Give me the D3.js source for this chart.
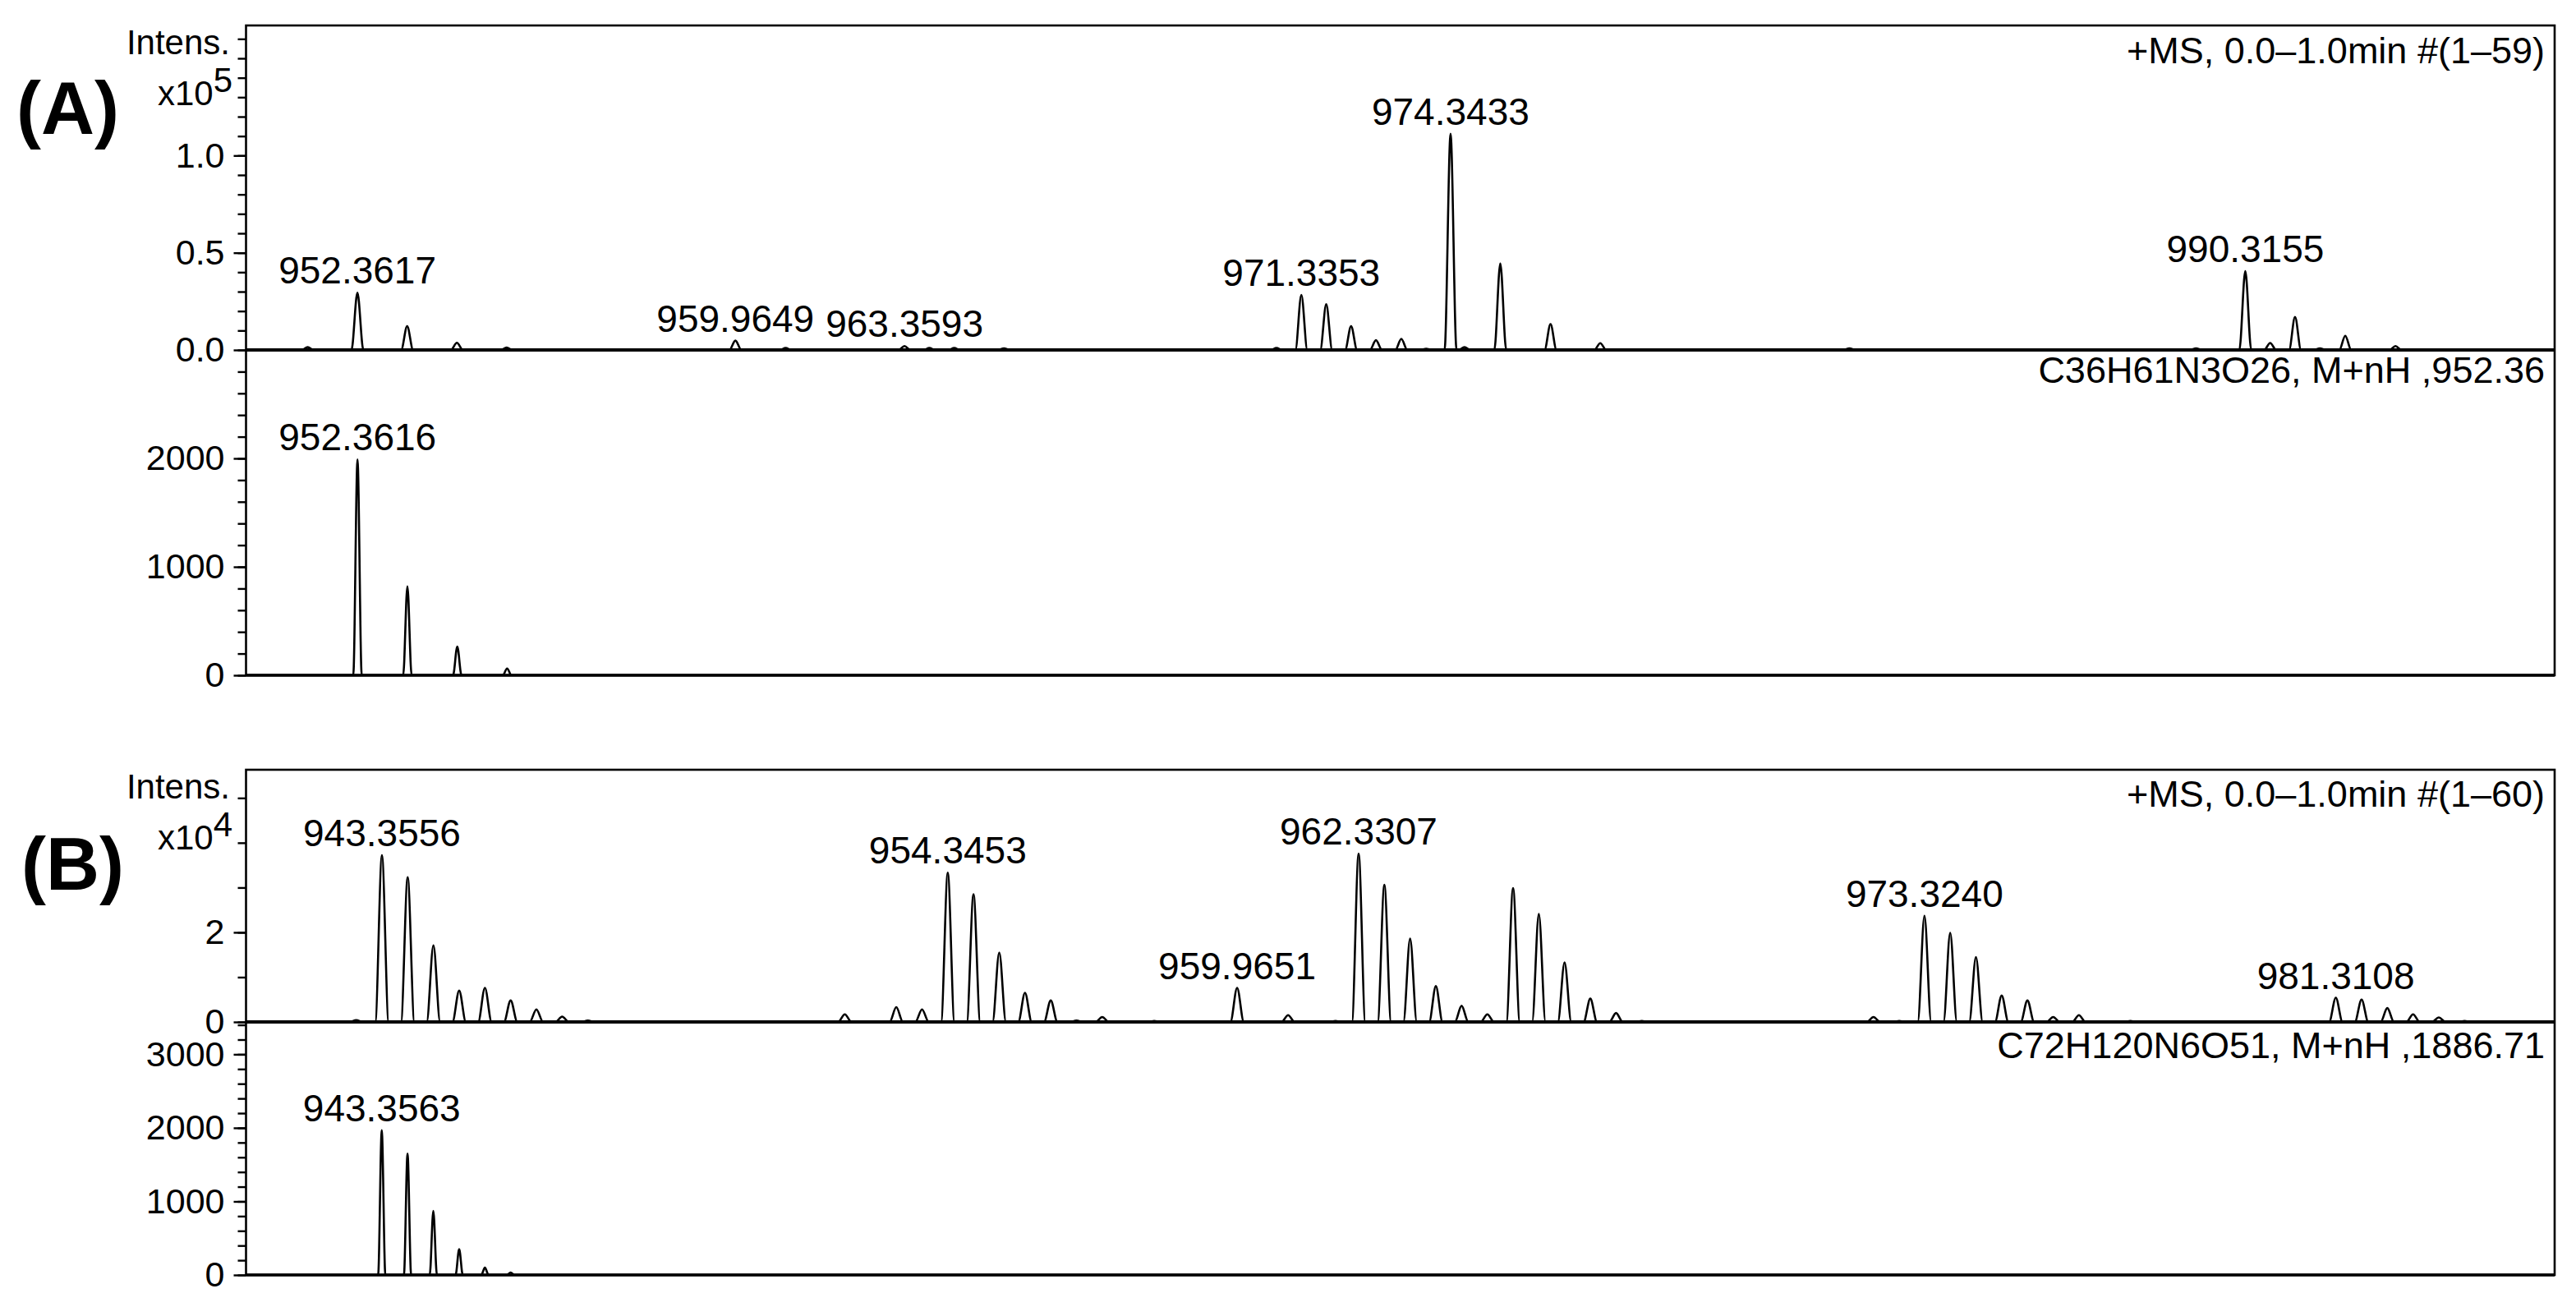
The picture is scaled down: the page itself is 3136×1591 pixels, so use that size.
<!DOCTYPE html>
<html>
<head>
<meta charset="utf-8">
<script src="https://cdn.jsdelivr.net/npm/d3@7"></script>
<style>
  body { margin: 0; background: #fff; }
  svg { display: block; }
  text { font-family: "Liberation Sans", Arial, Helvetica, sans-serif; fill: #000; }
</style>
</head>
<body>
<svg id="chart" width="3136" height="1591"></svg>
<script>
// ---------------- DATA ----------------
// (A) measured spectrum, +MS 0.0-1.0 min #(1-59)
const specA_mz  = [951.36, 952.36, 953.36, 954.36, 955.36, 959.96, 960.97, 963.36, 963.86, 964.36, 965.36,
                   970.84, 971.34, 971.84, 972.34, 972.84, 973.35, 973.85, 974.34, 974.62, 975.34, 976.35, 977.35,
                   982.36, 989.33, 990.32, 990.82, 991.32, 991.82, 992.33, 993.34];
const specA_int = [1500, 29500, 12200, 3700, 1200, 4800, 1000, 2000, 1000, 1000, 800,
                   1000, 28300, 23500, 12200, 5000, 5700, 600, 111200, 1500, 44400, 13300, 3500,
                   800, 800, 40500, 3600, 17000, 800, 7300, 2000];
// (A) simulated isotope pattern C36H61N3O26
const simA_mz  = [952.3616, 953.365, 954.368, 955.37];
const simA_int = [1990, 820, 265, 63];

// (B) measured spectrum, +MS 0.0-1.0 min #(1-60)
const specB_mz  = [942.86, 943.36, 943.86, 944.36, 944.86, 945.36, 945.86, 946.36, 946.86, 947.36,
                   952.35, 953.35, 953.85, 954.35, 954.85, 955.35, 955.85, 956.35, 956.85, 957.35, 958.36,
                   959.97, 960.96, 961.88,
                   962.33, 962.83, 963.33, 963.83, 964.33, 964.83,
                   965.33, 965.83, 966.33, 966.83, 967.33, 967.83,
                   970.35, 971.33, 971.83, 972.33, 972.83,
                   973.32, 973.82, 974.32, 974.82, 975.32, 975.82, 976.32, 977.32,
                   981.31, 981.81, 982.31, 982.81, 983.31, 983.81];
const specB_int = [400, 37200, 32300, 17100, 7000, 7600, 4800, 2800, 1200, 300,
                   1700, 3300, 2800, 33300, 28500, 15500, 6500, 4800, 300, 1100, 200,
                   7600, 1500, 200,
                   37600, 30600, 18600, 8000, 3600, 1700,
                   29900, 24100, 13300, 5200, 2000, 200,
                   100, 100, 100, 1100, 200,
                   23700, 19900, 14500, 5900, 4800, 1100, 1500, 200,
                   5400, 5000, 3100, 1700, 1000, 200];
// (B) simulated isotope pattern C72H120N6O51
const simB_mz  = [943.3563, 943.857, 944.358, 944.86, 945.36, 945.86];
const simB_int = [1967, 1650, 870, 350, 100, 33];

// peak annotations
const labA_top = ["952.3617", "959.9649", "963.3593", "971.3353", "974.3433", "990.3155"];
const labA_sim = ["952.3616"];
const labB_top = ["943.3556", "954.3453", "959.9651", "962.3307", "973.3240", "981.3108"];
const labB_sim = ["943.3563"];

// axis domains and ticks
const xDomA = [950.12, 996.54];
const xDomB = [940.72, 985.56];
const yDomA_top = [0, 166900];
const yDomA_sim = [0, 3000];
const yDomB_top = [0, 56300];
const yDomB_sim = [0, 3440];
const ticksA_top_major = [0, 50000, 100000];
const ticksA_sim_major = [0, 1000, 2000];
const ticksB_top_major = [0, 20000];
const ticksB_sim_major = [0, 1000, 2000, 3000];

// texts
const infoA = "+MS, 0.0\u20131.0min #(1\u201359)";
const formA = "C36H61N3O26, M+nH ,952.36";
const infoB = "+MS, 0.0\u20131.0min #(1\u201360)";
const formB = "C72H120N6O51, M+nH ,1886.71";

// ---------------- LAYOUT ----------------
const svg = d3.select("#chart");
const X0 = 299.5, X1 = 3110;
const layout = {
  A: { top: 31, mid: 426, bot: 822 },
  B: { top: 937, mid: 1244, bot: 1552 }
};

const panels = [
  { id: "At", mz: specA_mz, it: specA_int, xd: xDomA, yd: yDomA_top, y0: layout.A.mid, y1: layout.A.top, hw: 0.12,
    major: ticksA_top_major, minor: d3.range(0, 166000, 10000), fmt: v => (v / 1e5).toFixed(1), labels: labA_top },
  { id: "As", mz: simA_mz, it: simA_int, xd: xDomA, yd: yDomA_sim, y0: layout.A.bot, y1: layout.A.mid, hw: 0.085,
    major: ticksA_sim_major, minor: d3.range(0, 3000, 200), fmt: v => String(v), labels: labA_sim },
  { id: "Bt", mz: specB_mz, it: specB_int, xd: xDomB, yd: yDomB_top, y0: layout.B.mid, y1: layout.B.top, hw: 0.13,
    major: ticksB_top_major, minor: d3.range(0, 56000, 10000), fmt: v => String(v / 1e4), labels: labB_top },
  { id: "Bs", mz: simB_mz, it: simB_int, xd: xDomB, yd: yDomB_sim, y0: layout.B.bot, y1: layout.B.mid, hw: 0.07,
    major: ticksB_sim_major, minor: d3.range(0, 3440, 200), fmt: v => String(v), labels: labB_sim }
];

const defs = svg.append("defs");

panels.forEach(p => {
  const x = d3.scaleLinear().domain(p.xd).range([X0, X1]);
  const y = d3.scaleLinear().domain(p.yd).range([p.y0, p.y1]);

  defs.append("clipPath").attr("id", "clip" + p.id)
    .append("rect").attr("x", X0).attr("y", p.y1).attr("width", X1 - X0).attr("height", p.y0 - p.y1);

  // profile points built from the peak list
  const pts = [[p.xd[0], 0]];
  p.mz.forEach((m, i) => {
    pts.push([m - p.hw, 0], [m, p.it[i]], [m + p.hw, 0]);
  });
  pts.push([p.xd[1], 0]);

  const line = d3.line().x(d => x(d[0])).y(d => y(d[1])).curve(d3.curveMonotoneX);
  svg.append("path").datum(pts)
    .attr("clip-path", `url(#clip${p.id})`)
    .attr("d", line)
    .attr("fill", "none").attr("stroke", "#000").attr("stroke-width", 2.6)
    .attr("stroke-linejoin", "round");

  // minor ticks
  const gMin = svg.append("g").attr("transform", `translate(${X0},0)`)
    .call(d3.axisLeft(y).tickValues(p.minor).tickSize(10).tickFormat(""));
  gMin.select(".domain").remove();
  gMin.selectAll("line").attr("stroke-width", 2.4);

  // major ticks + labels
  const gMaj = svg.append("g").attr("transform", `translate(${X0},0)`)
    .call(d3.axisLeft(y).tickValues(p.major).tickSize(15).tickPadding(11).tickFormat(p.fmt));
  gMaj.select(".domain").remove();
  gMaj.selectAll("line").attr("stroke-width", 2.4);
  gMaj.selectAll("text").attr("font-size", 43).attr("font-family", '"Liberation Sans", Arial, sans-serif').attr("fill", "#000");

  // peak annotations
  p.labels.forEach(t => {
    const m = parseFloat(t);
    let best = 0;
    p.mz.forEach((v, i) => { if (Math.abs(v - m) < Math.abs(p.mz[best] - m)) best = i; });
    svg.append("text")
      .attr("x", x(p.mz[best]))
      .attr("y", y(p.it[best]) - 11)
      .attr("text-anchor", "middle")
      .attr("font-size", 46)
      .text(t);
  });
});

// frames
["A", "B"].forEach(k => {
  const L = layout[k];
  svg.append("rect").attr("x", X0).attr("y", L.top).attr("width", X1 - X0).attr("height", L.bot - L.top)
    .attr("fill", "none").attr("stroke", "#000").attr("stroke-width", 2.6);
  svg.append("line").attr("x1", X0).attr("x2", X1).attr("y1", L.mid).attr("y2", L.mid)
    .attr("stroke", "#000").attr("stroke-width", 4);
  svg.append("line").attr("x1", X0).attr("x2", X1).attr("y1", L.bot).attr("y2", L.bot)
    .attr("stroke", "#000").attr("stroke-width", 3.5);
});

// info texts
function infoText(str, yBase) {
  svg.append("text").attr("x", 3098).attr("y", yBase).attr("text-anchor", "end")
    .attr("font-size", 45).text(str);
}
infoText(infoA, 77);
infoText(formA, 466);
infoText(infoB, 982);
infoText(formB, 1288);

// Intens. labels
function intensLabel(yIntens, yExp, expo) {
  svg.append("text").attr("x", 280).attr("y", yIntens).attr("text-anchor", "end")
    .attr("font-size", 42).text("Intens.");
  const t = svg.append("text").attr("x", 283).attr("y", yExp).attr("text-anchor", "end").attr("font-size", 42);
  t.append("tspan").text("x10");
  t.append("tspan").attr("dy", -16).text(expo);
}
intensLabel(66, 128, "5");
intensLabel(972, 1034, "4");

// panel letters
svg.append("text").attr("x", 20).attr("y", 163).attr("font-size", 90).attr("font-weight", "bold").text("(A)");
svg.append("text").attr("x", 26).attr("y", 1083).attr("font-size", 90).attr("font-weight", "bold").text("(B)");
</script>
</body>
</html>
